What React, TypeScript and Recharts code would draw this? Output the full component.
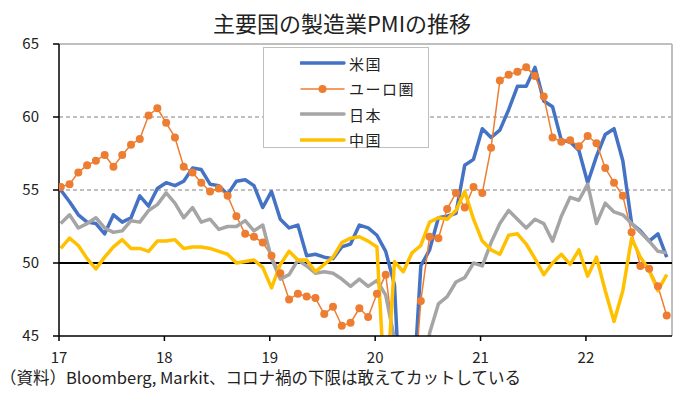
import { LineChart, Line, XAxis, YAxis, ReferenceLine } from 'recharts';

// monthly, Jan 2017 - Oct 2022
const usPmi = [
  55.0, 54.2, 53.3, 52.8, 52.7, 52.0, 53.3, 52.8, 53.1, 54.6, 53.9, 55.1,
  55.5, 55.3, 55.6, 56.5, 56.4, 55.4, 55.3, 54.7, 55.6, 55.7, 55.3, 53.8,
  54.9, 53.0, 52.4, 52.6, 50.5, 50.6, 50.4, 50.3, 51.1, 51.3, 52.6, 52.4,
  51.9, 50.8, 48.5, 36.1, 39.8, 49.8, 50.9, 53.1, 53.2, 53.4, 56.7, 57.1,
  59.2, 58.6, 59.1, 60.5, 62.1, 62.1, 63.4, 61.1, 60.7, 58.4, 58.3, 57.7,
  55.5, 57.3, 58.8, 59.2, 57.0, 52.7, 52.2, 51.5, 52.0, 50.4,
];
const euroPmi = [
  55.2, 55.4, 56.2, 56.7, 57.0, 57.4, 56.6, 57.4, 58.1, 58.5, 60.1, 60.6,
  59.6, 58.6, 56.6, 56.2, 55.5, 54.9, 55.1, 54.6, 53.2, 52.0, 51.8, 51.4,
  50.5, 49.3, 47.5, 47.9, 47.7, 47.6, 46.5, 47.0, 45.7, 45.9, 46.9, 46.3,
  47.9, 49.2, 44.5, 33.4, 39.4, 47.4, 51.8, 51.7, 53.7, 54.8, 53.8, 55.2,
  54.8, 57.9, 62.5, 62.9, 63.1, 63.4, 62.8, 61.4, 58.6, 58.3, 58.4, 58.0,
  58.7, 58.2, 56.5, 55.5, 54.6, 52.1, 49.8, 49.6, 48.4, 46.4,
];
const japanPmi = [
  52.7, 53.3, 52.4, 52.7, 53.1, 52.4, 52.1, 52.2, 52.9, 52.8, 53.6, 54.0,
  54.8, 54.1, 53.1, 53.8, 52.8, 53.0, 52.3, 52.5, 52.5, 52.9, 52.2, 52.6,
  50.3, 48.9, 49.2, 50.2, 49.8, 49.3, 49.4, 49.3, 48.9, 48.4, 48.9, 48.4,
  48.8, 47.8, 44.8, 41.9, 38.4, 40.1, 45.2, 47.2, 47.7, 48.7, 49.0, 50.0,
  49.8, 51.4, 52.7, 53.6, 53.0, 52.4, 53.0, 52.7, 51.5, 53.2, 54.5, 54.3,
  55.4, 52.7, 54.1, 53.5, 53.3, 52.7, 52.1, 51.5, 50.8, 50.7,
];
const chinaPmi = [
  51.0, 51.7, 51.2, 50.3, 49.6, 50.4, 51.1, 51.6, 51.0, 51.0, 50.8, 51.5,
  51.5, 51.6, 51.0, 51.1, 51.1, 51.0, 50.8, 50.6, 50.0, 50.1, 50.2, 49.7,
  48.3, 49.9, 50.8, 50.2, 50.2, 49.4, 49.9, 50.4, 51.4, 51.7, 51.8, 51.5,
  51.1, 40.3, 50.1, 49.4, 50.7, 51.2, 52.8, 53.1, 53.0, 53.6, 54.9, 53.0,
  51.5, 50.9, 50.6, 51.9, 52.0, 51.3, 50.3, 49.2, 50.0, 50.6, 49.9, 50.9,
  49.1, 50.4, 48.1, 46.0, 48.1, 51.7, 50.4, 49.5, 48.1, 49.2,
];
const yearLabels = ['17', '18', '19', '20', '21', '22'];
const yTicks = [45, 50, 55, 60, 65];

const data = usPmi.map((v, i) => ({
  i,
  us: v,
  euro: euroPmi[i],
  japan: japanPmi[i],
  china: chinaPmi[i],
}));

const SERIES = [
  { key: 'us', name: '米国', color: '#4472C4', width: 3.5, dots: false },
  { key: 'euro', name: 'ユーロ圏', color: '#ED7D31', width: 1.5, dots: true },
  { key: 'japan', name: '日本', color: '#A5A5A5', width: 3.5, dots: false },
  { key: 'china', name: '中国', color: '#FFC000', width: 3.5, dots: false },
];

const FONT = '"Noto Sans CJK JP", "Noto Sans", sans-serif';
const X_MIN = -0.2;
const X_MAX = 69.6;
const xTicks = yearLabels.map((_, k) => X_MIN + k * 12);

function ChartLegend() {
  return (
    <div
      style={{
        position: 'absolute', left: 263, top: 47, width: 164, height: 99,
        border: '1.5px solid #BFBFBF', background: '#fff', boxSizing: 'content-box',
      }}
    >
      {SERIES.map((s, k) => (
        <div
          key={s.key}
          style={{ position: 'absolute', left: 36, top: 4 + k * 25.5, height: 22, display: 'flex', alignItems: 'center' }}
        >
          <svg width={46} height={12}>
            <line x1={1} y1={6} x2={44} y2={6} stroke={s.color} strokeWidth={s.width} strokeLinecap="round" />
            {s.dots && <circle cx={22.5} cy={6} r={4} fill={s.color} />}
          </svg>
          <span style={{ fontSize: 15, letterSpacing: 1.5, color: '#222', marginLeft: 3 }}>{s.name}</span>
        </div>
      ))}
    </div>
  );
}

export default function App() {
  return (
    <div style={{ position: 'absolute', left: 0, top: 0, width: 684, height: 393, background: '#fff', fontFamily: FONT }}>
      <div style={{ position: 'absolute', left: 0, top: 7, width: 684, textAlign: 'center', fontSize: 22, color: '#222', lineHeight: '30px' }}>
        主要国の製造業PMIの推移
      </div>
      <LineChart width={684} height={393} data={data} margin={{ top: 44, right: 12, bottom: 27, left: 19 }}>
        <XAxis
          type="number"
          dataKey="i"
          domain={[X_MIN, X_MAX]}
          ticks={xTicks}
          tickFormatter={(v) => yearLabels[Math.round((v - X_MIN) / 12)]}
          tick={{ fontSize: 15, fill: '#222', fontFamily: FONT }}
          tickSize={5}
          tickMargin={11}
          axisLine={{ stroke: '#000', strokeWidth: 1.5 }}
          tickLine={{ stroke: '#000', strokeWidth: 1.5 }}
          height={30}
          allowDataOverflow
        />
        <YAxis
          type="number"
          domain={[45, 65]}
          ticks={yTicks}
          tick={{ fontSize: 15, fill: '#222', fontFamily: FONT }}
          tickSize={6}
          tickMargin={14}
          axisLine={{ stroke: '#000', strokeWidth: 1.5 }}
          tickLine={{ stroke: '#000', strokeWidth: 1.5 }}
          width={40}
          allowDataOverflow
        />
        <ReferenceLine y={55} stroke="#808080" strokeDasharray="4 3" />
        <ReferenceLine y={60} stroke="#808080" strokeDasharray="4 3" />
        <ReferenceLine y={65} stroke="#BFBFBF" strokeWidth={2} />
        <ReferenceLine x={X_MAX} stroke="#BFBFBF" strokeWidth={2} />
        <ReferenceLine y={50} stroke="#000" strokeWidth={2} />
        {SERIES.map((s) => (
          <Line
            key={s.key}
            type="linear"
            dataKey={s.key}
            name={s.name}
            stroke={s.color}
            strokeWidth={s.width}
            strokeLinejoin="round"
            dot={s.dots ? { r: 4, fill: s.color, stroke: 'none' } : false}
            activeDot={false}
            isAnimationActive={false}
          />
        ))}
      </LineChart>
      <ChartLegend />
      <div style={{ position: 'absolute', left: 0, top: 368, fontSize: 16.5, color: '#222', lineHeight: '18px', whiteSpace: 'nowrap' }}>
        （資料）Bloomberg, Markit、コロナ禍の下限は敢えてカットしている
      </div>
    </div>
  );
}
